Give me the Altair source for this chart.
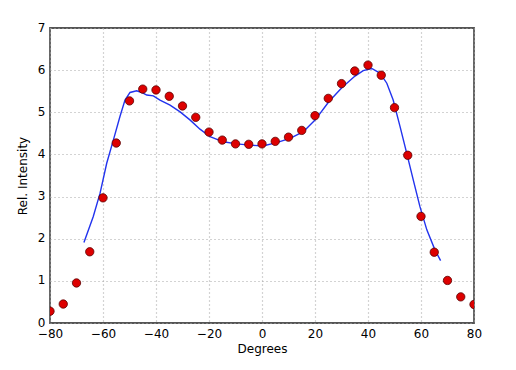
import altair as alt
import pandas as pd

# Measured points (every 5 degrees)
pts_x = [-80, -75, -70, -65, -60, -55, -50, -45, -40, -35, -30, -25, -20, -15, -10, -5,
         0, 5, 10, 15, 20, 25, 30, 35, 40, 45, 50, 55, 60, 65, 70, 75, 80]
pts_y = [0.28, 0.45, 0.95, 1.69, 2.97, 4.27, 5.27, 5.55, 5.53, 5.38, 5.15, 4.88, 4.53, 4.34,
         4.25, 4.24, 4.25, 4.31, 4.41, 4.57, 4.92, 5.33, 5.68, 5.98, 6.12, 5.88, 5.11, 3.98,
         2.53, 1.68, 1.01, 0.62, 0.44]

# Model curve
line_x = [-67.2, -63.7, -61.1, -58.6, -56.1, -53.6, -51.7, -49.8, -47.3, -45.4, -43.5, -41.0,
          -38.5, -34.7, -30.9, -27.2, -23.4, -19.6, -14.6, -9.6, -4.5, 0.3, 5.5, 10.6, 15.6,
          20.1, 25.2, 30.2, 35.1, 38.2, 41.4, 44.5, 47.1, 49.5, 52.1, 54.6, 57.1, 59.6, 62.2,
          65.3, 67.4]
line_y = [1.91, 2.52, 3.08, 3.79, 4.34, 4.90, 5.29, 5.47, 5.51, 5.47, 5.41, 5.39, 5.29, 5.17,
          5.01, 4.82, 4.60, 4.42, 4.30, 4.25, 4.22, 4.20, 4.28, 4.38, 4.54, 4.82, 5.25, 5.59,
          5.86, 5.99, 6.04, 5.93, 5.69, 5.29, 4.66, 4.03, 3.39, 2.76, 2.21, 1.73, 1.48]

x_ticks = [-80, -60, -40, -20, 0, 20, 40, 60, 80]
y_ticks = [0, 1, 2, 3, 4, 5, 6, 7]

pts = pd.DataFrame({"deg": pts_x, "val": pts_y})
curve = pd.DataFrame({"deg": line_x, "val": line_y})

font = "DejaVu Sans"

xscale = alt.Scale(domain=[-80, 80], nice=False, zero=False)
yscale = alt.Scale(domain=[0, 7], nice=False)

xaxis = alt.Axis(title="Degrees", values=x_ticks, grid=True, gridDash=[1, 3], gridColor="#a8a8a8",
                 gridWidth=1.2, ticks=False, domain=False, labelFont=font, labelFontSize=12,
                 labelColor="#000000", labelPadding=5, titleFont=font, titleFontSize=12,
                 titleFontWeight="normal", titleColor="#000000", titlePadding=4,
                 labelExpr="replace(datum.label, '-', '\u2212')", labelFlush=False)
yaxis = alt.Axis(title="Rel. Intensity", values=y_ticks, grid=True, gridDash=[1, 3], gridColor="#a8a8a8",
                 gridWidth=1.2, ticks=False, domain=False, labelFont=font, labelFontSize=12,
                 labelColor="#000000", labelPadding=5, titleFont=font, titleFontSize=12,
                 titleFontWeight="normal", titleColor="#000000", titlePadding=8, labelFlush=False,
                 labelOffset=-1)

line = alt.Chart(curve).mark_line(color="#2233ee", strokeWidth=1.4, clip=True).encode(
    x=alt.X("deg:Q", scale=xscale, axis=xaxis),
    y=alt.Y("val:Q", scale=yscale, axis=yaxis),
)

dots = alt.Chart(pts).mark_point(filled=True, fill="#dd0000", stroke="#5a0000", strokeWidth=0.8,
                                 size=70, opacity=1, clip=True).encode(
    x=alt.X("deg:Q", scale=xscale),
    y=alt.Y("val:Q", scale=yscale),
)

chart = alt.layer(line, dots).properties(
    width=424, height=295,
    autosize=alt.AutoSizeParams(type="none"),
    padding={"left": 42, "top": 20, "right": 30, "bottom": 40},
    background="#ffffff",
).configure_view(stroke="#555555", strokeWidth=1.8)

chart.save("out.html", embed_options={"renderer": "svg", "actions": False})
